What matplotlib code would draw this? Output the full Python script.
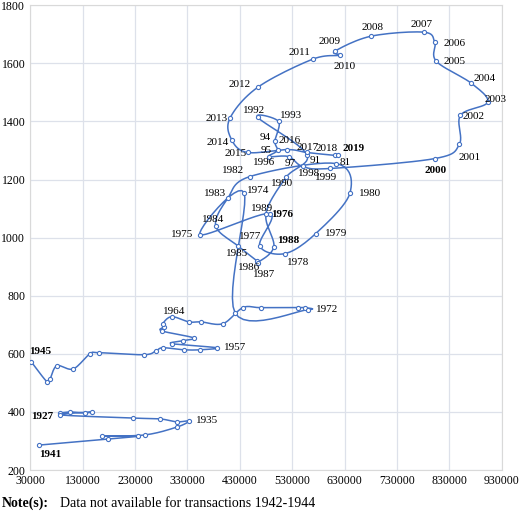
import numpy as np
import matplotlib.pyplot as plt

plt.rcParams['font.family'] = ['Liberation Serif', 'DejaVu Serif']

years_a = list(range(1927, 1942))
x_a = [87000, 106000, 135000, 148000, 87000, 226000, 278000, 310000, 333000,
       310000, 249000, 167000, 236000, 179000, 47000]
y_a = [397, 400, 397, 400, 390, 379, 376, 366, 369, 348, 321, 317, 317, 307, 286]

years_b = list(range(1945, 2020))
x_b = [32000, 62000, 68000, 81000, 112000, 144000, 161000, 247000, 270000, 283000,
       323000, 354000, 386000, 300000, 321000, 342000, 281000, 285000, 283000, 300000,
       333000, 356000, 398000, 436000, 470000, 542000, 554000, 560000, 421000, 438000,
       354000, 487000, 468000, 516000, 575000, 640000, 613000, 449000, 407000, 384000,
       426000, 462000, 464000, 495000, 480000, 518000, 558000, 464000, 504000, 497000,
       502000, 485000, 523000, 550000, 603000, 802000, 849000, 851000, 903000, 872000,
       805000, 802000, 781000, 680000, 611000, 621000, 569000, 464000, 411000, 415000,
       445000, 521000, 558000, 611000, 617000]
y_b = [573, 504, 514, 559, 548, 600, 604, 597, 610, 621,
       614, 614, 621, 635, 645, 655, 679, 693, 704, 728,
       710, 710, 704, 759, 759, 759, 759, 752, 741, 1155,
       1010, 1083, 972, 945, 1014, 1152, 1255, 1210, 1135, 1041,
       972, 921, 914, 969, 1083, 1207, 1286, 1414, 1400, 1331,
       1300, 1279, 1279, 1245, 1238, 1272, 1321, 1421, 1466, 1531,
       1607, 1672, 1707, 1693, 1641, 1628, 1614, 1517, 1410, 1335,
       1293, 1303, 1293, 1283, 1283]

# label text, offset in pixels (dx, dy), bold
labels = {
    1927: ('1927', (-18, -4), True), 1935: ('1935', (18, 0), False),
    1941: ('1941', (11, -9), True), 1945: ('1945', (9, 10), True),
    1957: ('1957', (18, 0), False), 1964: ('1964', (3, 5), False),
    1972: ('1972', (19, 0), False), 1974: ('1974', (14, 2), False),
    1975: ('1975', (-18, 0), False), 1976: ('1976', (12, -1), True),
    1977: ('1977', (-10, 9), False), 1978: ('1978', (13, -9), False),
    1979: ('1979', (20, 0), False), 1980: ('1980', (20, 0), False),
    1981: ('81', (10, 1), False), 1982: ('1982', (-17, 6), False),
    1983: ('1983', (-13, 5), False), 1984: ('1984', (-3, 6), False),
    1985: ('1985', (-1, -8), False), 1986: ('1986', (-7, -7), False),
    1987: ('1987', (7, -12), False), 1988: ('1988', (14, 6), True),
    1989: ('1989', (-4, 5), False), 1990: ('1990', (-4, -6), False),
    1991: ('91', (8, -6), False), 1992: ('1992', (-4, 7), False),
    1993: ('1993', (12, 6), False), 1994: ('94', (-10, 4), False),
    1995: ('95', (-11, 0), False), 1996: ('1996', (-4, -6), False),
    1997: ('97', (2, -7), False), 1998: ('1998', (6, -7), False),
    1999: ('1999', (-4, -9), False), 2000: ('2000', (1, -12), True),
    2001: ('2001', (10, -13), False), 2002: ('2002', (13, -1), False),
    2003: ('2003', (8, 3), False), 2004: ('2004', (13, 5), False),
    2005: ('2005', (18, 0), False), 2006: ('2006', (20, -1), False),
    2007: ('2007', (-2, 8), False), 2008: ('2008', (2, 9), False),
    2009: ('2009', (-5, 10), False), 2010: ('2010', (5, -11), False),
    2011: ('2011', (-13, 7), False), 2012: ('2012', (-18, 3), False),
    2013: ('2013', (-13, 0), False), 2014: ('2014', (-14, -2), False),
    2015: ('2015', (-12, -1), False), 2016: ('2016', (2, 9), False),
    2017: ('2017', (1, 5), False), 2018: ('2018', (-8, 7), False),
    2019: ('2019', (16, 7), True),
}

def smooth(x, y, n=12):
    x = np.asarray(x, float) / 1000.0
    y = np.asarray(y, float)
    # scale to comparable units before spline, then back
    p = np.column_stack([x / 1.905, y / 3.448])
    p = np.vstack([p[0], p, p[-1]])
    out = []
    for i in range(1, len(p) - 2):
        p0, p1, p2, p3 = p[i - 1], p[i], p[i + 1], p[i + 2]
        for t in np.linspace(0, 1, n, endpoint=False):
            t2, t3 = t * t, t * t * t
            out.append(0.5 * ((2 * p1) + (-p0 + p2) * t + (2 * p0 - 5 * p1 + 4 * p2 - p3) * t2
                              + (-p0 + 3 * p1 - 3 * p2 + p3) * t3))
    out.append(p[-2])
    out = np.array(out)
    return out[:, 0] * 1.905 * 1000, out[:, 1] * 3.448

fig = plt.figure(figsize=(5.2, 5.16), dpi=100)
ax = fig.add_axes([0.058, 0.089, 0.907, 0.901])
col = '#4472C4'
for xs, ys, yrs in [(x_a, y_a, years_a), (x_b, y_b, years_b)]:
    sx, sy = smooth(xs, ys)
    ax.plot(sx, sy, color=col, lw=1.1, zorder=2)
    ax.plot(xs, ys, 'o', ms=3, mfc='white', mec=col, mew=0.8, zorder=3)
    for yr, xv, yv in zip(yrs, xs, ys):
        if yr in labels:
            t, (dx, dy), b = labels[yr]
            ax.annotate(t, (xv, yv), xytext=(dx, dy), textcoords='offset pixels',
                        ha='center', va='center', fontsize=8,
                        fontweight='bold' if b else 'normal')

ax.set_xlim(30000, 930000)
ax.set_ylim(200, 1800)
ax.set_xticks(np.arange(30000, 930001, 100000))
ax.set_yticks(np.arange(200, 1801, 200))
ax.tick_params(labelsize=8.5, length=0)
ax.grid(True, color='#dde1ea', lw=0.9)
ax.set_axisbelow(True)
for s in ax.spines.values():
    s.set_color('#d9d9d9')

fig.text(0.003, 0.012, 'Note(s):', fontsize=10, fontweight='bold',
         ha='left', va='bottom')
fig.text(0.115, 0.012, 'Data not available for transactions 1942-1944',
         fontsize=10, ha='left', va='bottom')
fig.savefig('out.png', dpi=100)
